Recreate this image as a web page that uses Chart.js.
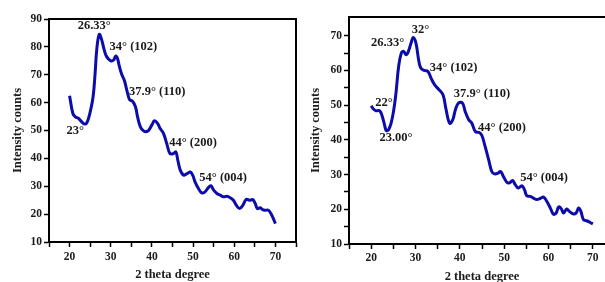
<!DOCTYPE html>
<html lang="en">
<head>
    <meta charset="UTF-8">
    <title>XRD</title>
    <style>
        html, body { margin: 0; padding: 0; background: #fff; overflow: hidden; width: 605px; height: 282px; }
        #left { position: absolute; left: 0; top: 0; }
        #right { position: absolute; left: 300px; top: 0; }
    </style>
</head>
<body>

<canvas id="left" width="300" height="282"></canvas>
<canvas id="right" width="320" height="290"></canvas>

<script src="https://cdn.jsdelivr.net/npm/chart.js@4.4.0/dist/chart.umd.min.js"></script>
<script>

    // left sample
    const leftTheta = [20, 20.8, 21.4, 22.2, 23, 23.6, 24.2, 24.9, 25.7, 26.2, 26.6, 27.2, 27.8, 28.4, 29, 30, 30.7, 31.2, 31.6, 32.1,
        32.7, 33.3, 33.9, 34.6, 35.3, 36, 36.5, 37.2, 38, 39, 40, 40.6, 41.4, 42, 42.8, 43.6, 44.4, 45.2, 45.8, 46.3,
        46.9, 47.7, 48.5, 49.3, 49.9, 50.5, 51.3, 52.1, 52.9, 53.7, 54.3, 55, 55.8, 56.6, 57.4, 58.2, 59, 59.8, 60.5, 61.3,
        62.1, 62.9, 63.7, 64.5, 65.1, 65.6, 66.3, 66.9, 67.5, 68.3, 68.9, 69.5, 70];
    const leftCounts = [62.5, 56.1, 54.9, 54.3, 53, 52.3, 52.8, 56, 62, 70.5, 79, 84.5, 82.5, 79, 76.5, 75, 75.3, 76.7, 76, 73,
        70, 68, 64.5, 61, 60.5, 58.5, 55, 51.3, 49.8, 49.8, 52, 53.5, 52.5, 50.7, 49, 45.3, 41.7, 41.7, 42.3, 39.3,
        35.7, 34, 34.5, 35.1, 34, 31.5, 29.2, 27.6, 28, 29.5, 30.2, 28.6, 27.4, 26.8, 26.2, 26.4, 25.9, 25, 23.2, 22,
        23.2, 25.3, 25, 25.2, 23.8, 22, 22.3, 21.6, 21.4, 21.4, 20.2, 18.4, 16.6];

    const leftNotes = ["26.33°", "34° (102)", "37.9° (110)", "23°", "44° (200)", "54° (004)"];
    const leftNoteX = [26, 35.5, 41.3, 21.4, 50, 57.3];
    const leftNoteY = [87.6, 80, 63.8, 49.8, 45.5, 32.9];

    // right sample
    const rightTheta = [20, 20.5, 21.1, 21.9, 22.4, 23, 23.4, 23.9, 24.5, 25.1, 25.6, 26.2, 26.8, 27.3, 27.9, 28.4, 29, 29.5, 30.1, 30.7,
        31.2, 32, 32.8, 33.5, 34.3, 35.2, 36.2, 36.9, 37.7, 38.4, 39, 39.7, 40.6, 41.2, 42, 42.7, 43.5, 44.4, 45, 45.7,
        46.5, 47.2, 47.8, 48.6, 49.2, 49.8, 50.6, 51.2, 51.9, 52.5, 53.2, 54, 54.6, 55.1, 55.9, 56.6, 57.4, 58.1, 58.9, 59.6,
        60.4, 61.1, 61.7, 62.3, 62.9, 63.4, 64.1, 64.7, 65.5, 66.2, 66.8, 67.3, 67.9, 68.6, 69.4, 70];
    const rightCounts = [49.8, 48.9, 48.4, 48.4, 47.2, 44.4, 42.7, 42.9, 44.8, 48.7, 53.5, 61.2, 65, 65.5, 64.5, 65.5, 67.9, 69.5, 67.9, 63.1,
        60.7, 60, 59.7, 57.8, 55.9, 54.6, 53, 48.7, 44.8, 45.8, 48.7, 50.6, 50.6, 48.2, 45.8, 44.8, 42.4, 42.1, 41.2, 38.1,
        34.3, 30.9, 30.2, 30.4, 30.9, 29.5, 27.8, 27.6, 28.3, 27.1, 26.1, 26.8, 25.6, 23.9, 23.7, 23.2, 22.8, 23.1, 23.5, 22.3,
        20.4, 18.6, 18.9, 20.7, 20.1, 18.9, 20.1, 19.4, 18.7, 18.9, 20.4, 19.4, 17, 16.7, 16.2, 15.8];

    const rightNotes = ["32°", "26.33°", "34° (102)", "37.9° (110)", "22°", "23.00°", "44° (200)", "54° (004)"];
    const rightNoteX = [31.1, 23.7, 38.6, 45, 22.9, 25.6, 49.5, 59];
    const rightNoteY = [71.7, 67.9, 60.7, 53.2, 50.6, 40.5, 43.6, 29];

    const serif = '"Liberation Serif", "Times New Roman", serif';

    // draws peak labels + closes the frame (top / right)
    const peakLabels = {
        id: 'peakLabels',
        afterDatasetsDraw(chart, args, opts) {
            const ctx = chart.ctx;
            const xs = chart.scales.x, ys = chart.scales.y;
            const a = chart.chartArea;
            ctx.save();
            ctx.strokeStyle = '#000';
            ctx.lineWidth = 2;
            ctx.beginPath();
            ctx.moveTo(a.left, a.top);
            ctx.lineTo(a.right, a.top);
            ctx.lineTo(a.right, a.bottom);
            ctx.stroke();
            ctx.fillStyle = '#1a1a1a';
            ctx.font = 'bold 12.5px ' + serif;
            ctx.textAlign = 'center';
            ctx.textBaseline = 'middle';
            for (let i = 0; i < opts.text.length; i++) {
                ctx.fillText(opts.text[i], xs.getPixelForValue(opts.x[i]), ys.getPixelForValue(opts.y[i]));
            }
            ctx.restore();
        }
    };

    function makeChart(id, theta, counts, notes, noteX, noteY, cfg) {
        let points = [];
        for (let i = 0; i < theta.length; i++) {
            points.push({x: theta[i], y: counts[i]});
        }
        let tickFont = {family: serif, weight: 'bold', size: 11.5};
        let titleFont = {family: serif, weight: 'bold', size: 12.5};
        return new Chart(document.getElementById(id), {
            type: 'line',
            data: {
                datasets: [{
                    data: points,
                    borderColor: '#0c0cab',
                    borderWidth: 3,
                    pointRadius: 0,
                    tension: 0.4,
                    fill: false
                }]
            },
            plugins: [peakLabels],
            options: {
                responsive: false,
                animation: false,
                events: [],
                layout: {padding: cfg.padding},
                plugins: {
                    legend: {display: false},
                    tooltip: {enabled: false},
                    peakLabels: {text: notes, x: noteX, y: noteY}
                },
                scales: {
                    x: {
                        type: 'linear',
                        min: 15,
                        max: 75,
                        afterFit: function (s) { s.height = cfg.xHeight },
                        ticks: {
                            stepSize: 5,
                            color: '#1a1a1a',
                            font: tickFont,
                            padding: cfg.xTickPad,
                            maxRotation: 0,
                            callback: v => (v % 10 === 0 && v > 15 && v < 75) ? String(v) : ''
                        },
                        grid: {drawOnChartArea: false, drawTicks: true, tickLength: 5, tickWidth: 1.5, color: '#000'},
                        border: {display: true, color: '#000', width: 2},
                        title: {display: true, text: '2 theta degree', color: '#1a1a1a', font: titleFont, padding: {top: 0, bottom: cfg.xTitlePad}}
                    },
                    y: {
                        min: 10,
                        max: cfg.yMax,
                        afterFit: function (s) { s.width = cfg.yWidth },
                        afterBuildTicks: function (s) { s.ticks = s.ticks.filter(t => t.value % 5 === 0) },
                        ticks: {
                            stepSize: 5,
                            color: '#1a1a1a',
                            font: tickFont,
                            padding: 2,
                            callback: v => (v % 10 === 0) ? String(v) : ''
                        },
                        grid: {drawOnChartArea: false, drawTicks: true, tickLength: 5, tickWidth: 1.5, color: '#000'},
                        border: {display: true, color: '#000', width: 2},
                        title: {display: true, text: 'Intensity counts', color: '#1a1a1a', font: titleFont, padding: {top: cfg.yTitlePad, bottom: 0}}
                    }
                }
            }
        });
    }

    makeChart('left', leftTheta, leftCounts, leftNotes, leftNoteX, leftNoteY, {
        padding: {left: 0, top: 19, right: 4, bottom: 0},
        xHeight: 40, yWidth: 49, yMax: 90, xTickPad: 3, xTitlePad: 0, yTitlePad: 10
    });

    makeChart('right', rightTheta, rightCounts, rightNotes, rightNoteX, rightNoteY, {
        padding: {left: 0, top: 17, right: 5, bottom: 0},
        xHeight: 46, yWidth: 49, yMax: 75.4, xTickPad: 2, xTitlePad: 6, yTitlePad: 8
    });
</script>
</body>
</html>
